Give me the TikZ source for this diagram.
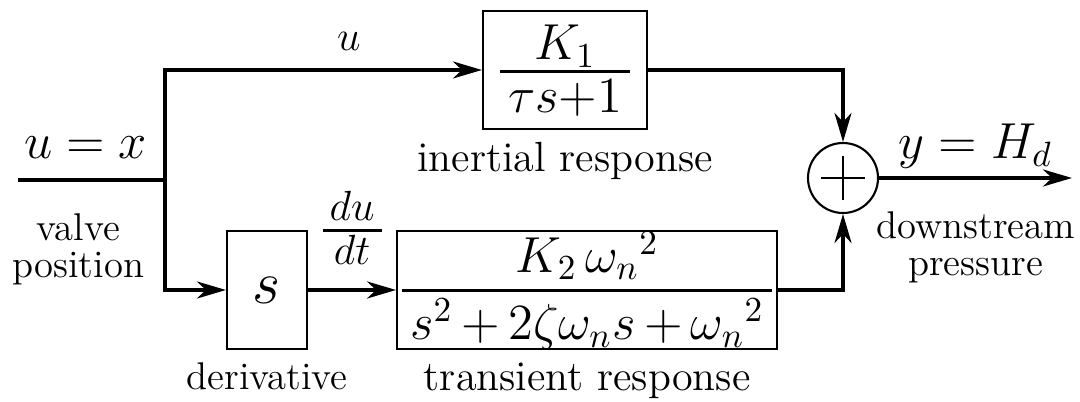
\documentclass[tikz,border=0pt]{standalone}
\usepackage{amsmath,amssymb}
\usetikzlibrary{arrows.meta,positioning,calc}
\def\denht{0.78em}
\newcommand{\stackfrac}[3][0.2em]{\begingroup\renewcommand{\arraystretch}{0}\setlength{\arrayrulewidth}{0.8pt}%
  \begin{array}{@{\,}c@{\,}}\rule[-#1]{0pt}{\dimexpr0.69em+#1\relax}\smash{#2}\\\hline
  \rule[-0.05em]{0pt}{\dimexpr\denht+0.05em\relax}\smash{#3}\end{array}\endgroup}

\begin{document}
\begin{tikzpicture}[
  >={Stealth[length=2.9mm,width=1.7mm,inset=0.9mm]},
  every node/.style={font=\large,align=center},
  block/.style={draw,semithick,minimum height=11.8mm,inner sep=1pt,font=\Large},
  sumnode/.style={draw,semithick,circle,minimum size=7mm,inner sep=0pt,
    path picture={\draw[semithick] ([xshift=-2.2mm]path picture bounding box.center) -- ([xshift=2.2mm]path picture bounding box.center)
      ([yshift=-2.2mm]path picture bounding box.center) -- ([yshift=2.2mm]path picture bounding box.center);}},
  signal/.style={font=\Large}, side/.style={font=\fontsize{11}{10.5}\selectfont},
  arrow/.style={->,line width=1pt}, wire/.style={line width=1pt}]
\useasboundingbox (0,0) rectangle (10.8,4.02);
\coordinate (input) at (0.18,2.22);
\coordinate (split) at (1.65,2.22);
\node[block,minimum width=16.4mm] (inertial) at (5.65,3.32) {$\stackfrac{K_1}{\tau s{+}1}$};
\node[block,minimum width=8mm,font=\LARGE] (deriv) at (2.67,1.12) {$s$};
\node[block,minimum width=38mm,right=8.8mm of deriv] (transient) {\def\denht{0.95em}$\medmuskip=3mu\stackfrac[0.33em]{K_2\,{\omega_n}^2}{s^2+2\zeta\omega_n s+{\omega_n}^2}$};
\node[sumnode] (sum) at (8.43,2.24) {};
\coordinate (output) at (10.72,2.24);
\node[below=0pt of inertial] (inertiallabel) {inertial response};
\node[side,below=0pt of deriv] (derivlabel) {derivative};
\node[below=0pt of transient] (transientlabel) {transient response};
\draw[wire] (input) -- node[pos=0.46,above=0.8mm,signal]{$u=x$} node[pos=0.41,below=2mm,side]{valve\\position} (split);
\draw[arrow] (split) |- node[pos=0.79,above=0.6mm]{$u$} (inertial.west);
\draw[arrow] (split) |- (deriv.west);
\draw[arrow] (deriv) -- node[above=1mm]{$\stackfrac[0.2em]{du}{dt}$} (transient);
\draw[arrow] (inertial.east) -| (sum.north);
\draw[arrow] (transient.east) -| (sum.south);
\draw[arrow] (sum) -- node[above=-0.4mm,signal]{$y=H_d$} node[below=2mm,side]{downstream\\pressure} (output);
\end{tikzpicture}
\end{document}
